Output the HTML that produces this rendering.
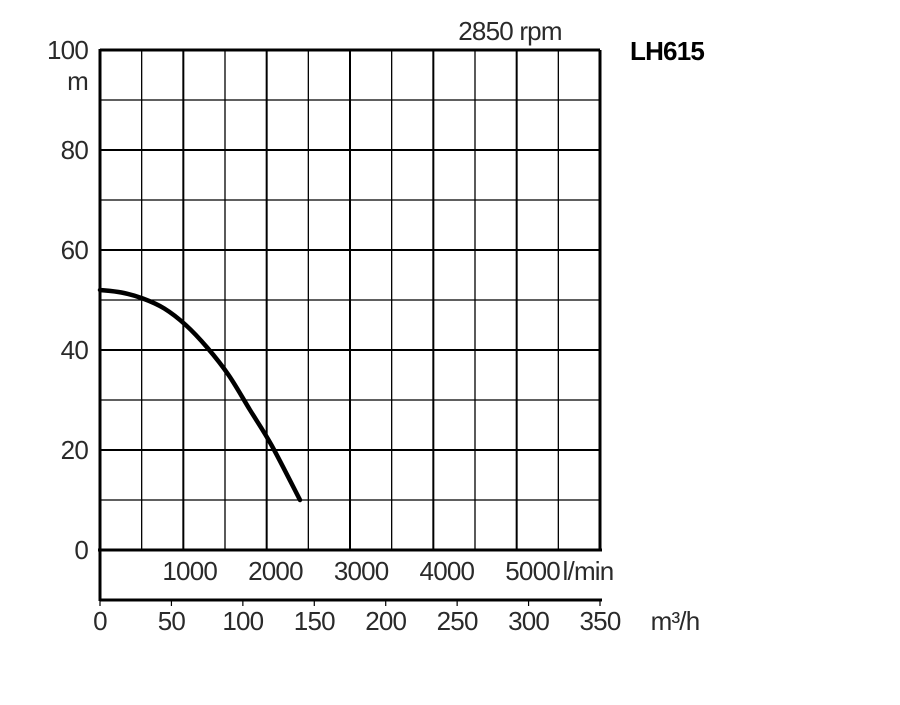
<!DOCTYPE html>
<html><head><meta charset="utf-8"><style>
body{margin:0;background:#fff;}
svg text{font-family:"Liberation Sans",sans-serif;fill:#2a2a2a;font-size:26px;letter-spacing:-0.8px;}
</style></head><body>
<svg width="900" height="700">
<g id="grid"></g>
<g id="labels"></g>
<path id="curve" fill="none" stroke="#000" stroke-width="4.5" stroke-linecap="round"/>
<text x="510" y="40" text-anchor="middle">2850 rpm</text>
<text x="630" y="60" style="font-weight:bold;fill:#000">LH615</text>
<text x="88" y="90" text-anchor="end">m</text>
<text x="588" y="580" text-anchor="middle">l/min</text>
<text x="675" y="630" text-anchor="middle">m³/h</text>
</svg>
<script>
const flowM3h=[0,15,30,45,60,75,90,105,120,140];
const headM=[52,51.5,50.3,48.3,45,40.5,35,28,21,10];
const yTicks=[0,20,40,60,80,100];
const m3hTicks=[0,50,100,150,200,250,300,350];
const lminTicks=[1000,2000,3000,4000,5000];
const X=q=>100+q*500/350, Y=h=>550-h*5;
const NS="http://www.w3.org/2000/svg";
const grid=document.getElementById('grid'), lab=document.getElementById('labels');
function line(x1,y1,x2,y2,w,name){const l=document.createElementNS(NS,'line');
l.setAttribute('x1',x1);l.setAttribute('y1',y1);l.setAttribute('x2',x2);l.setAttribute('y2',y2);
l.setAttribute('stroke','#000');l.setAttribute('stroke-width',w);


grid.appendChild(l);}
function txt(x,y,s,anchor,name){const t=document.createElementNS(NS,'text');
t.setAttribute('x',x);t.setAttribute('y',y);t.setAttribute('text-anchor',anchor);t.textContent=s;


lab.appendChild(t);}
for(let i=1;i<12;i++){const x=100+i*500/12;line(x,50,x,550,i%2==0?2:1.3,'v-gridline');}
for(let h=10;h<100;h+=10){line(100,Y(h),600,Y(h),h%20==0?2:1.3,'h-gridline');}
line(100,50,600,50,3,'frame-top');line(600,50,600,550,3,'frame-right');
line(100,49,100,601,3,'frame-left');line(98,550,602,550,3,'x-axis-line');
line(100,600,602,600,3,'secondary-axis-line');
m3hTicks.forEach(v=>{line(X(v),600,X(v),606,1.2,'m3h-tick');txt(X(v),630,String(v),'middle','m3h-tick-label');});
yTicks.forEach(v=>txt(88,Y(v)+9,String(v),'end','y-tick-label'));
lminTicks.forEach(v=>txt(X(v*0.06)+4,580,String(v),'middle','lmin-tick-label'));
const P=flowM3h.map((q,i)=>[X(q),Y(headM[i])]);
let d='M'+P[0][0]+','+P[0][1];
for(let i=0;i<P.length-1;i++){const p0=P[Math.max(0,i-1)],p1=P[i],p2=P[i+1],p3=P[Math.min(P.length-1,i+2)];
d+='C'+(p1[0]+(p2[0]-p0[0])/6)+','+(p1[1]+(p2[1]-p0[1])/6)+' '+(p2[0]-(p3[0]-p1[0])/6)+','+(p2[1]-(p3[1]-p1[1])/6)+' '+p2[0]+','+p2[1];}
document.getElementById('curve').setAttribute('d',d);
</script>
</body></html>
